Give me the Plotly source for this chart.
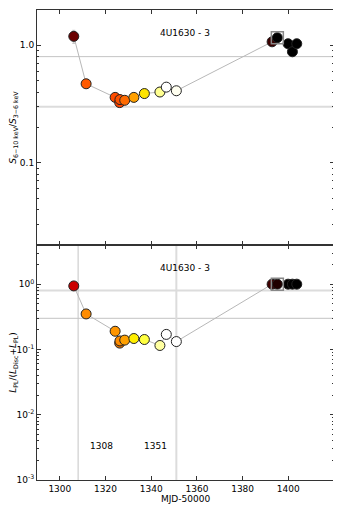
import plotly.graph_objects as go
from plotly.subplots import make_subplots

# MJD-50000 of each observation
mjd = [1306.1, 1311.5, 1324.2, 1326.2, 1326.3, 1328.4, 1332.4, 1337.0, 1343.8, 1346.6, 1351.0,
       1392.9, 1395.2, 1399.9, 1401.8, 1403.7]

# top panel: hardness ratio S(6-10 keV)/S(3-6 keV)
hardness = [1.19, 0.47, 0.36, 0.325, 0.345, 0.34, 0.36, 0.388, 0.40, 0.44, 0.41,
            1.07, 1.16, 1.03, 0.88, 1.03]
hardness_err = [0.15, 0, 0, 0, 0, 0, 0, 0, 0, 0, 0, 0, 0, 0, 0, 0]
hardness_col = ["#6b0000", "#ff5a00", "#ff4c00", "#ff4400", "#ff5000", "#ff6a00", "#ffa000",
                "#ffe400", "#ffff90", "#ffffff", "#fffff0", "#3a0000", "#000000", "#000000",
                "#000000", "#000000"]

# bottom panel: power-law fraction L_PL/(L_Disc+L_PL)
plfrac = [0.94, 0.35, 0.19, 0.125, 0.135, 0.139, 0.147, 0.142, 0.115, 0.17, 0.132,
          1.0, 1.0, 1.0, 1.0, 1.0]
plfrac_col = ["#cc0000", "#ff8c00", "#ff9500", "#e57300", "#ff8c00", "#ffa000", "#ffee00",
              "#ffff40", "#ffffa0", "#ffffff", "#ffffff", "#400000", "#200000", "#000000",
              "#000000", "#000000"]

n_connected = 13          # points joined by the grey line
special = 12              # index of the boxed observation
hlines = [0.8, 0.3]
vlines = [1308, 1351]
source = "4U1630 - 3"

thin = dict(color="#c4c4c4", width=1)
thick = dict(color="#dcdcdc", width=2)

fig = make_subplots(rows=2, cols=1, shared_xaxes=True, vertical_spacing=0)

for row, yv, cols in [(1, hardness, hardness_col), (2, plfrac, plfrac_col)]:
    fig.add_trace(go.Scatter(x=mjd[:n_connected], y=yv[:n_connected], mode="lines",
                             line=dict(color="#b8b8b8", width=1), hoverinfo="skip"),
                  row=row, col=1)
    err = dict(type="data", array=hardness_err, color="#bbbbbb", thickness=1, width=1.5) if row == 1 else None
    fig.add_trace(go.Scatter(x=mjd, y=yv, mode="markers", error_y=err,
                             marker=dict(size=10, color=cols, line=dict(color="#222222", width=1))),
                  row=row, col=1)
    fig.add_trace(go.Scatter(x=[mjd[special]], y=[yv[special]], mode="markers",
                             marker=dict(symbol="square-open", size=12, color="#888888",
                                         line=dict(width=1.5))),
                  row=row, col=1)
    styles = [thin, thick] if row == 1 else [thick, thin]
    for h, st in zip(hlines, styles):
        fig.add_hline(y=h, line=st, layer="below", row=row, col=1)

for v, st in zip(vlines, [thin, thick]):
    fig.add_vline(x=v, line=st, layer="below", row=2, col=1)

font = dict(family="DejaVu Sans", size=9, color="black")
fig.add_annotation(x=1354.6, y=0.101, xref="x", yref="y", text=source, showarrow=False, font=font)
fig.add_annotation(x=1354.6, y=0.245, xref="x2", yref="y2", text=source, showarrow=False, font=font)
fig.add_annotation(x=1318.3, y=-2.475, xref="x2", yref="y2", text=str(vlines[0]), showarrow=False, font=font)
fig.add_annotation(x=1342, y=-2.475, xref="x2", yref="y2", text=str(vlines[1]), showarrow=False, font=font)

axis_common = dict(showline=True, linecolor="#333333", linewidth=1, mirror="allticks",
                   ticks="inside", ticklen=4, tickcolor="#333333", showgrid=False, zeroline=False,
                   tickfont=font, automargin=False)
fig.update_xaxes(range=[1290, 1420], tick0=1300, dtick=20, **axis_common)
fig.update_xaxes(showticklabels=False, row=1, col=1)
fig.update_xaxes(title=dict(text="MJD-50000", font=font, standoff=0), row=2, col=1)

fig.update_yaxes(type="log", range=[-1.7, 0.3], tickvals=[0.1, 1.0], ticktext=["0.1", "1.0"],
                 minor=dict(ticks="inside", ticklen=2, tickcolor="#333333",
                            tickvals=[0.03, 0.04, 0.05, 0.06, 0.07, 0.08, 0.09,
                                      0.2, 0.3, 0.4, 0.5, 0.6, 0.7, 0.8, 0.9]),
                 title=dict(text="<i>S</i><sub>6−10 keV</sub>/<i>S</i><sub>3−6 keV</sub>",
                            font=dict(family="DejaVu Sans", size=9), standoff=2),
                 row=1, col=1, **axis_common)
fig.update_yaxes(type="log", range=[-3, 0.6], tickvals=[0.001, 0.01, 0.1, 1],
                 ticktext=["10<sup>-3</sup>", "10<sup>-2</sup>", "10<sup>-1</sup>", "10<sup>0</sup>"],
                 minor=dict(ticks="inside", ticklen=2, tickcolor="#333333",
                            tickvals=[0.002, 0.003, 0.004, 0.005, 0.006, 0.007, 0.008, 0.009,
                                      0.02, 0.03, 0.04, 0.05, 0.06, 0.07, 0.08, 0.09,
                                      0.2, 0.3, 0.4, 0.5, 0.6, 0.7, 0.8, 0.9, 2, 3]),
                 title=dict(text="<i>L</i><sub>PL</sub>/(<i>L</i><sub>Disc</sub>+<i>L</i><sub>PL</sub>)",
                            font=dict(family="DejaVu Sans", size=9), standoff=2),
                 row=2, col=1, **axis_common)

# page body adds an 8px offset, so the figure is sized to compensate
fig.update_layout(width=333, height=503, margin=dict(l=29, r=7, t=2, b=31),
                  plot_bgcolor="white", paper_bgcolor="white", showlegend=False,
                  font=font)

fig.write_html("out.html")
